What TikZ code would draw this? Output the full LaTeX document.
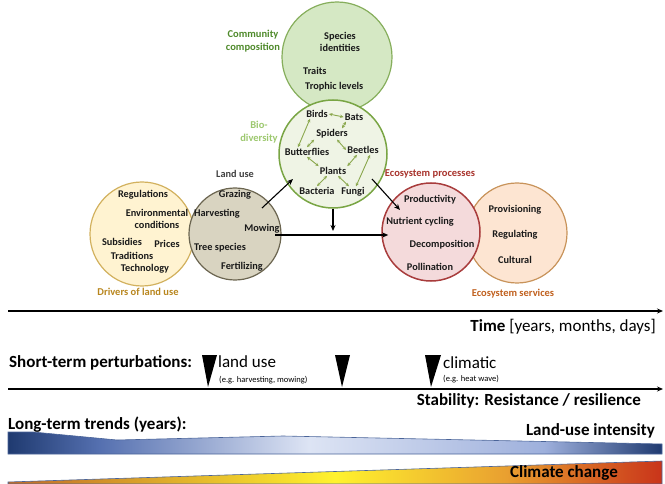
\documentclass[tikz,border=0pt]{standalone}
\usepackage{fontspec}
\setmainfont{Carlito}
\usetikzlibrary{arrows.meta,calc}
\definecolor{commfill}{HTML}{D5E8C4}
\definecolor{commdraw}{HTML}{86AE5C}
\definecolor{biofill}{HTML}{EFF4E5}
\definecolor{biodraw}{HTML}{79A544}
\definecolor{drvfill}{HTML}{FFF3D1}
\definecolor{drvdraw}{HTML}{D2B15E}
\definecolor{lufill}{HTML}{D9D4C1}
\definecolor{ludraw}{HTML}{6B6550}
\definecolor{procfill}{HTML}{F4DADB}
\definecolor{procdraw}{HTML}{A83C3C}
\definecolor{servfill}{HTML}{FDE5D2}
\definecolor{servdraw}{HTML}{C8935A}
\definecolor{commtxt}{HTML}{4F8A2B}
\definecolor{biotxt}{HTML}{9DC86F}
\definecolor{drvtxt}{HTML}{B8861E}
\definecolor{proctxt}{HTML}{A8332C}
\definecolor{servtxt}{HTML}{C0601E}
\definecolor{lutxt}{HTML}{404040}
\definecolor{inktxt}{HTML}{1A1A1A}
\definecolor{garr}{HTML}{8BA84E}
\definecolor{lublueA}{HTML}{1F3A70}
\definecolor{lublueB}{HTML}{5570B0}
\definecolor{lublueC}{HTML}{DDE4F4}
\definecolor{lublueD}{HTML}{9EB0DC}
\definecolor{ccA}{HTML}{C06A28}
\definecolor{ccB}{HTML}{FFF22E}
\definecolor{ccC}{HTML}{E9A030}
\definecolor{ccD}{HTML}{C9341A}
\definecolor{bandedge}{HTML}{4A6499}
\pgfdeclarehorizontalshading{lushade}{100bp}{color(0bp)=(lublueA); color(25bp)=(lublueA); color(32bp)=(lublueB); color(48bp)=(lublueC); color(66bp)=(lublueD); color(75bp)=(lublueA); color(100bp)=(lublueA)}
\pgfdeclarehorizontalshading{ccshade}{100bp}{color(0bp)=(ccA); color(25bp)=(ccA); color(50bp)=(ccB); color(63bp)=(ccC); color(75bp)=(ccD); color(100bp)=(ccD)}
\tikzset{
  circ/.style={circle, inner sep=0pt, line width=1.2pt},
  txt/.style={font=\bfseries\fontsize{10.3}{12.5}\selectfont, text=inktxt, inner sep=1pt, align=center},
  lbl/.style={font=\bfseries\fontsize{10.5}{12.5}\selectfont, inner sep=1pt, align=center},
  bigtxt/.style={font=\fontsize{17}{20}\selectfont, inner sep=0pt},
  bigbold/.style={font=\bfseries\fontsize{17}{20}\selectfont, inner sep=0pt},
  smalltxt/.style={font=\fontsize{8.5}{10}\selectfont, inner sep=0pt},
  barrow/.style={-{Stealth[length=6pt,width=5pt]}, line width=1.1pt},
  garrow/.style={{Stealth[length=3.5pt,width=3.2pt]}-{Stealth[length=3.5pt,width=3.2pt]}, line width=0.9pt, garr},
  axis/.style={-{Stealth[length=6pt,width=5pt]}, line width=1.4pt},
  perttri/.style={fill=black}
}
\begin{document}
\begin{tikzpicture}[x=1pt,y=-1pt]
\useasboundingbox (0,0) rectangle (665,484);
% circles
\node[circ, minimum size=110pt, fill=commfill, draw=commdraw] (comm) at (337,57) {};
\node[circ, minimum size=108pt, fill=biofill, draw=biodraw, line width=1.5pt] (bio) at (333,154) {};
\node[circ, minimum size=104pt, fill=drvfill, draw=drvdraw] (drv) at (142,234) {};
\node[circ, minimum size=92pt, fill=lufill, draw=ludraw] (lu) at (235,234) {};
\node[circ, minimum size=100pt, fill=servfill, draw=servdraw] (serv) at (517,233) {};
\node[circ, minimum size=98pt, fill=procfill, draw=procdraw, line width=1.5pt] (proc) at (431,232) {};
% community composition
\node[lbl, text=commtxt] (commlbl) at (253,41) {Community\\composition};
\node[txt] (species) at (340,42) {Species\\identities};
\node[txt, anchor=west] (traits) at (302,71) {Traits};
\node[txt, anchor=west] (trophic) at (304,87) {Trophic levels};
% biodiversity
\node[lbl, text=biotxt] (biolbl) at (259,132) {Bio-\\diversity};
\node[txt] (birds) at (317,114) {Birds};
\node[txt] (bats) at (354,117) {Bats};
\node[txt] (spiders) at (332,134) {Spiders};
\node[txt] (butter) at (307,152) {Butterflies};
\node[txt] (beetles) at (363,150) {Beetles};
\node[txt] (plants) at (333,171) {Plants};
\node[txt] (bacteria) at (317,191) {Bacteria};
\node[txt] (fungi) at (353,192) {Fungi};
\draw[garrow] (birds.east) -- (bats.west);
\draw[garrow] ([xshift=-7pt]birds.south) -- ([xshift=-9pt]butter.north);
\draw[garrow] ([xshift=-1pt]spiders.south west) -- (butter.north);
\draw[garrow] ([xshift=-8pt]bats.south) -- ([xshift=10pt]spiders.north);
\draw[garrow] ([xshift=5pt]spiders.south) -- (beetles.west);
\draw[garrow] (butter.south) -- (plants.north west);
\draw[garrow] ([xshift=-6pt]beetles.south) -- (plants.north east);
\draw[garrow] ([xshift=-6pt]plants.south) -- (bacteria.north);
\draw[garrow] ([xshift=5pt]plants.south) -- ([xshift=-4pt]fungi.north);
\draw[garrow] ([xshift=3pt]fungi.north) -- ([xshift=7pt]beetles.south);
% drivers of land use
\node[txt] (regul) at (143,195) {Regulations};
\node[txt] (envcond) at (157,219) {Environmental\\conditions};
\node[txt] (subsid) at (122,242) {Subsidies};
\node[txt] (prices) at (167,244) {Prices};
\node[txt] (tradit) at (132,256) {Traditions};
\node[txt] (techn) at (145,269) {Technology};
\node[lbl, text=drvtxt] (drvlbl) at (138,292) {Drivers of land use};
% land use
\node[txt, text=lutxt] (lulbl) at (235,174) {Land use};
\node[txt] (grazing) at (235,195) {Grazing};
\node[txt] (harvest) at (217,214) {Harvesting};
\node[txt] (mowing) at (262,229) {Mowing};
\node[txt] (treesp) at (220,248) {Tree species};
\node[txt] (fertil) at (242,267) {Fertilizing};
% ecosystem processes
\node[lbl, text=proctxt] (proclbl) at (430,174) {Ecosystem processes};
\node[txt] (product) at (430,200) {Productivity};
\node[txt] (nutrient) at (420,222) {Nutrient cycling};
\node[txt] (decomp) at (442,245) {Decomposition};
\node[txt] (pollin) at (430,267) {Pollination};
% ecosystem services
\node[txt] (provis) at (515,210) {Provisioning};
\node[txt] (regulat) at (515,235) {Regulating};
\node[txt] (cultural) at (515,260) {Cultural};
\node[lbl, text=servtxt] (servlbl) at (513,294) {Ecosystem services};
% black arrows
\draw[barrow] ([xshift=27pt,yshift=26pt]lu.center) -- ([xshift=-40pt,yshift=-25pt]bio.center);
\draw[barrow] ([xshift=39pt,yshift=-25pt]bio.center) -- ([xshift=-31pt,yshift=22pt]proc.center);
\coordinate (vtip) at (333,231);
\draw[barrow] (bio.south) -- (vtip);
\coordinate (hstart) at (275,235);
\draw[barrow] (hstart) -- ([xshift=7pt]proc.west |- hstart);
% time axis
\coordinate (t0) at (8,311);
\coordinate (t1) at (663,311);
\draw[axis] (t0) -- (t1);
\node[bigtxt, anchor=east] (timelbl) at (656,327) {\textbf{Time} [years, months, days]};
% short-term perturbations
\node[bigbold, anchor=west] (stp) at (9,363) {Short-term perturbations:};
\fill[perttri] (202,355) -- (217,355) -- (208,387) -- cycle;
\fill[perttri] (335,355) -- (350,355) -- (342,387) -- cycle;
\fill[perttri] (425,355) -- (441,355) -- (431,387) -- cycle;
\node[bigtxt, anchor=west] (landuse) at (218,362) {land use};
\node[smalltxt, anchor=west] (egland) at (219,380) {(e.g. harvesting, mowing)};
\node[bigtxt, anchor=west] (climatic) at (443,363) {climatic};
\node[smalltxt, anchor=west] (egclim) at (443,379) {(e.g. heat wave)};
\coordinate (s0) at (8,389);
\coordinate (s1) at (663,389);
\draw[axis] (s0) -- (s1);
\node[bigbold, anchor=east] (stab) at (641,401) {Stability: Resistance / resilience};
% long-term trends
\node[bigbold, anchor=west] (ltt) at (8,425) {Long-term trends (years):};
\shadedraw[shading=lushade, draw=bandedge, line width=0.6pt] (8,432) -- (33,432) -- (117,440) -- (283,436) -- (662,444) -- (662,454) -- (8,454) -- cycle;
\node[bigbold, anchor=east] (luint) at (655,431) {Land-use intensity};
\shadedraw[shading=ccshade, draw=bandedge, line width=0.6pt] (8,484) -- (8,482) -- (662,461) -- (662,484) -- cycle;
\node[bigbold, anchor=east] (climchg) at (618,473) {Climate change};
\end{tikzpicture}
\end{document}
